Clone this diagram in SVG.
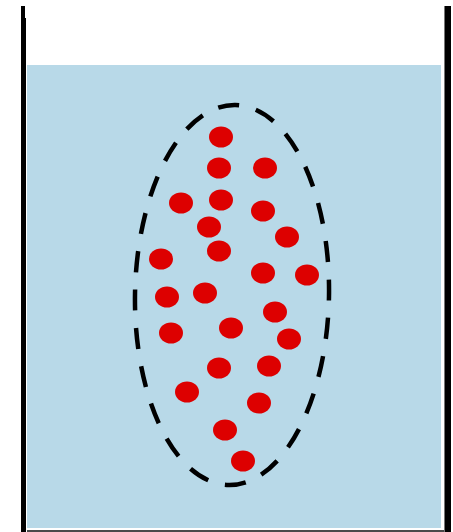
<svg xmlns="http://www.w3.org/2000/svg" width="453" height="532" viewBox="0 0 453 532">
  <style>
    .wall { fill: #000000; }
    .water { fill: #B8D9E8; }
    .boundary { fill: none; stroke: #000000; stroke-width: 4.5; stroke-dasharray: 22 18; stroke-dashoffset: 18; stroke-linecap: butt; }
    .dot { fill: #DD0000; }
  </style>
  <rect x="0" y="0" width="453" height="532" fill="#FFFFFF"/>
  <g id="water">
    <rect class="water" x="27" y="65" width="414" height="463"/>
  </g>
  <g id="beaker">
    <rect x="27" y="530" width="418" height="2" fill="#4A4A4A"/>
    <rect class="wall" x="21" y="6" width="4" height="526"/>
    <rect class="wall" x="21" y="18" width="5" height="514"/>
    <rect x="444" y="6" width="1" height="526" fill="#777777"/>
    <rect class="wall" x="445" y="6" width="6" height="526"/>
  </g>
  <g id="region">
    <ellipse class="boundary" cx="232" cy="295" rx="97" ry="190" pathLength="960" transform="rotate(1 232 295)"/>
  </g>
  <g id="particles">
    <ellipse class="dot" cx="221" cy="137" rx="12" ry="10.5"/>
    <ellipse class="dot" cx="219" cy="168" rx="12" ry="10.5"/>
    <ellipse class="dot" cx="265" cy="168" rx="12" ry="10.5"/>
    <ellipse class="dot" cx="181" cy="203" rx="12" ry="10.5"/>
    <ellipse class="dot" cx="221" cy="200" rx="12" ry="10.5"/>
    <ellipse class="dot" cx="263" cy="211" rx="12" ry="10.5"/>
    <ellipse class="dot" cx="209" cy="227" rx="12" ry="10.5"/>
    <ellipse class="dot" cx="287" cy="237" rx="12" ry="10.5"/>
    <ellipse class="dot" cx="219" cy="251" rx="12" ry="10.5"/>
    <ellipse class="dot" cx="161" cy="259" rx="12" ry="10.5"/>
    <ellipse class="dot" cx="263" cy="273" rx="12" ry="10.5"/>
    <ellipse class="dot" cx="307" cy="275" rx="12" ry="10.5"/>
    <ellipse class="dot" cx="167" cy="297" rx="12" ry="10.5"/>
    <ellipse class="dot" cx="205" cy="293" rx="12" ry="10.5"/>
    <ellipse class="dot" cx="275" cy="312" rx="12" ry="10.5"/>
    <ellipse class="dot" cx="171" cy="333" rx="12" ry="10.5"/>
    <ellipse class="dot" cx="231" cy="328" rx="12" ry="10.5"/>
    <ellipse class="dot" cx="289" cy="339" rx="12" ry="10.5"/>
    <ellipse class="dot" cx="219" cy="368" rx="12" ry="10.5"/>
    <ellipse class="dot" cx="269" cy="366" rx="12" ry="10.5"/>
    <ellipse class="dot" cx="187" cy="392" rx="12" ry="10.5"/>
    <ellipse class="dot" cx="259" cy="403" rx="12" ry="10.5"/>
    <ellipse class="dot" cx="225" cy="430" rx="12" ry="10.5"/>
    <ellipse class="dot" cx="243" cy="461" rx="12" ry="10.5"/>
  </g>
</svg>
